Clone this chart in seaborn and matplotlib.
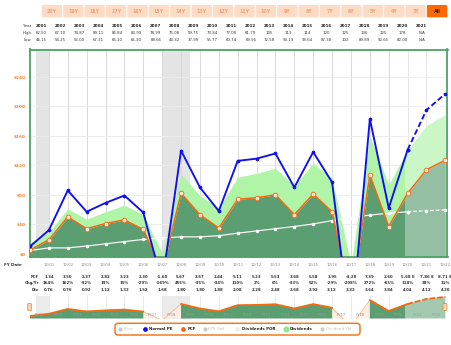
import numpy as np
import pandas as pd
import matplotlib
matplotlib.use("Agg")
import matplotlib.pyplot as plt
import matplotlib.transforms as mtransforms
from matplotlib.patches import FancyBboxPatch
import seaborn as sns

# ---------------- data ----------------
fy_idx = list(range(23))  # 12/00 .. 12/22
fy_dates = ["12/%02d" % y for y in range(1, 23)]
normal_pe = [10, 32, 86, 57, 69, 79, 56, -40, 140, 90, 58, 126, 129, 136, 90, 138, 97, -106, 183, 62, 141, 195, 217]
fcf_line = [5, 19, 50, 34, 41, 46, 33, -23, 82, 53, 35, 74, 76, 80, 53, 81, 57, -62, 107, 37, 82, 114, 127]
div_top = [15, 29, 61, 47, 57, 66, 53, 1, 108, 79, 62, 104, 109, 116, 92, 123, 102, -14, 160, 94, 141, 174, 189]
div_por = [4.5, 8, 8, 10.5, 13.5, 16.5, 19.5, 21.5, 23, 23, 24.5, 28, 31, 34, 37, 40.5, 45, 49, 52.5, 55, 57, 58.5, 59.5]

years = [str(y) for y in range(2001, 2022)]
high = ["62.50", "67.10", "74.87", "89.11", "85.84", "83.99", "78.99", "75.08", "59.75", "73.84", "77.00",
        "81.79", "105", "113", "114", "120", "125", "136", "125", "178", "N/A"]
low = ["46.15", "54.25", "53.00", "67.31", "66.10", "65.30", "68.66", "43.32", "37.99", "55.77", "60.74",
       "69.56", "72.58", "93.19", "93.64", "87.30", "102", "89.89", "92.65", "82.00", "N/A"]
fcf_vals = ["1.34", "3.50", "2.37", "2.82", "3.23", "2.30", "-1.60", "5.67", "3.67", "2.44", "5.11", "5.23",
            "5.53", "3.68", "5.58", "3.95", "-4.28", "7.39", "2.60", "5.68 E", "7.86 E", "8.71 E"]
chg_vals = ["164%", "162%", "-32%", "19%", "15%", "-29%", "-169%", "455%", "-35%", "-34%", "110%", "2%",
            "6%", "-33%", "52%", "-29%", "-208%", "272%", "-65%", "118%", "38%", "11%"]
div_vals = ["0.76", "0.76", "0.92", "1.12", "1.32", "1.52", "1.68", "1.80", "1.80", "1.88", "2.08", "2.28",
            "2.48", "2.68", "2.92", "3.12", "3.32", "3.64", "3.84", "4.04", "4.12", "4.20"]
buttons = ["20Y", "19Y", "18Y", "17Y", "16Y", "15Y", "14Y", "13Y", "12Y", "11Y", "10Y", "9Y", "8Y", "7Y",
           "6Y", "5Y", "4Y", "3Y", "All"]
yticks = [0, 40, 80, 120, 160, 200, 240]
recessions = [(0.3, 1.0), (7.0, 8.5)]
est_start = 19.86
nav_labels = ["FY%02d" % y for y in range(1, 23)]

df = pd.DataFrame({"i": fy_idx, "pe": normal_pe, "fcf": fcf_line, "top": div_top, "por": div_por})
act = df[df.i <= 20]
est = df[df.i >= 20]

# ---------------- figure ----------------
sns.set_theme(style="white")
plt.rcParams["font.family"] = ["DejaVu Sans"]
W, H = 452, 345
fig = plt.figure(figsize=(W / 100, H / 100), dpi=100)
fig.patch.set_facecolor("white")


def px_rect(l, t, r, b):
    return [l / W, 1 - b / H, (r - l) / W, (b - t) / H]


XL = (-0.0265, 22.113)
DGREEN = "#5b9e72"
LGREEN = "#b0f4a8"
ORANGE = "#f26a10"
BLUE = "#0f0ff0"

ax = fig.add_axes(px_rect(29.5, 49.5, 447.5, 257))
ax.set_xlim(*XL)
ax.set_ylim(-4.34, 277)
for a, b in recessions:
    ax.axvspan(a, b, color="#e4e4e4", lw=0, zorder=0.5)
ax.set_yticks(yticks)
ax.set_yticklabels(["$%d" % v for v in yticks], color="#f7852f", fontsize=3.1, fontweight="bold")
ax.set_xticks(range(1, 22))
ax.set_xticklabels([])
ax.tick_params(length=0, pad=2.6)
ax.grid(axis="y", color="#ececec", lw=0.7)
ax.grid(axis="x", color="#d9d9d9", lw=0.7)
ax.set_axisbelow(True)

ax.fill_between(df.i, -4.34, df.fcf, color=DGREEN, lw=0, zorder=2)
ax.fill_between(df.i, df.fcf, df.top, color=LGREEN, lw=0, zorder=2)
ax.axvspan(est_start, 22.3, color="white", alpha=0.35, lw=0, zorder=2.5)

sns.lineplot(data=act, x="i", y="por", ax=ax, color="#f6f6f6", lw=0.9, marker="o", ms=1.8,
             mfc="white", mec="white", zorder=3)
sns.lineplot(data=est, x="i", y="por", ax=ax, color="#f6f6f6", lw=0.9, marker="o", ms=1.8,
             mfc="white", mec="white", zorder=3, linestyle=(0, (3, 1.5)))
sns.lineplot(data=df, x="i", y="fcf", ax=ax, color=ORANGE, lw=1.1, marker="o", ms=3.4,
             mfc="#fde3d3", mec=ORANGE, mew=0.6, zorder=4)
sns.lineplot(data=act, x="i", y="pe", ax=ax, color=BLUE, lw=1.35, marker="o", ms=1.9,
             mfc=BLUE, mec=BLUE, zorder=5)
sns.lineplot(data=est, x="i", y="pe", ax=ax, color=BLUE, lw=1.35, marker="o", ms=1.9,
             mfc=BLUE, mec=BLUE, zorder=5, linestyle=(0, (3, 1.5)))
ax.set_xlabel("")
ax.set_ylabel("")
for s in ax.spines.values():
    s.set_color("#4da466")
    s.set_linewidth(1.3)

# ---------------- navigator ----------------
nav = fig.add_axes(px_rect(29.5, 296, 447.5, 318.5))
nav.set_xlim(*XL)
nav.set_ylim(-11, 133)
for a, b in recessions:
    nav.axvspan(a, b, color="#ebebeb", lw=0, zorder=0.5)
nav.set_xticks(range(1, 22))
nav.set_xticklabels([])
nav.set_yticks([])
nav.tick_params(length=0)
nav.grid(axis="x", color="#e6e6e6", lw=0.6)
nav.set_axisbelow(True)
for s in nav.spines.values():
    s.set_visible(False)
pos = [v > 0 for v in fcf_line]
dip = [i in (6, 7, 8, 16, 17, 18) for i in fy_idx]
nav.fill_between(df.i, -11, df.fcf, where=dip, color="#fdeee3", lw=0, zorder=1)
nav.fill_between(df.i, -11, df.fcf, where=pos, color=DGREEN, lw=0, zorder=2)
nav.plot(df.i, df.fcf, color="#f5b88c", lw=0.6, zorder=3)
thick = df.fcf.where(df.fcf > 0)
nav.plot(df.i[df.i <= 20], thick[df.i <= 20], color=ORANGE, lw=1.3, zorder=4)
nav.plot(df.i[df.i >= 20], thick[df.i >= 20], color=ORANGE, lw=1.3, zorder=4, ls=(0, (3, 1.2)))
nav.axvspan(est_start, 22.3, color="white", alpha=0.45, lw=0, zorder=2.5)

# ---------------- overlay (pixel coords) ----------------
ov = fig.add_axes([0, 0, 1, 1], zorder=10)
ov.set_xlim(0, W)
ov.set_ylim(H, 0)
ov.axis("off")
ov.patch.set_alpha(0)

# buttons
for k, lab in enumerate(buttons):
    x0 = 41.7 + 21.4 * k
    is_all = lab == "All"
    ov.add_patch(FancyBboxPatch((x0, 5), 20.4, 12.3, boxstyle="round,pad=0,rounding_size=1",
                                fc="#ff6a00" if is_all else "#fddcc6", ec="none"))
    ov.text(x0 + 10.2, 11.3, lab, ha="center", va="center", fontsize=3.4, fontweight="bold",
            color="#3d1a00" if is_all else "#f3a073")

# year table
for lab, yy in [("Year", 25.7), ("High", 32.7), ("Low", 40.3)]:
    ov.text(31.7, yy, lab, ha="right", va="center", fontsize=2.8, color="#333333")
for k in range(len(years)):
    xc = 41.7 + 19.0 * k
    ov.text(xc, 25.7, years[k], ha="center", va="center", fontsize=2.9, fontweight="bold", color="#222222")
    ov.text(xc, 32.7, high[k], ha="center", va="center", fontsize=2.8, color="#333333")
    ov.text(xc, 40.3, low[k], ha="center", va="center", fontsize=2.8, color="#333333")

# FY date + lower table (x in data coords, y in pixels)
bt = mtransforms.blended_transform_factory(ax.transData, ov.transData)
ov.text(21.5, 264.5, "FY Date", ha="right", va="center", fontsize=2.9, fontweight="bold", color="#333333")
ov.text(39, 276.5, "FCF", ha="right", va="center", fontsize=2.8, fontweight="bold", color="#333333")
ov.text(39, 283, "Chg/Yr", ha="right", va="center", fontsize=2.8, fontweight="bold", color="#333333")
ov.text(39, 290, "Div", ha="right", va="center", fontsize=2.8, fontweight="bold", color="#333333")
for k in range(22):
    xi = k + 1
    ov.text(xi, 264.5, fy_dates[k], transform=bt, ha="center", va="center", fontsize=2.75, color="#888888")
    ov.text(xi, 276.5, fcf_vals[k], transform=bt, ha="center", va="center", fontsize=2.75,
            fontweight="bold", color="#333333")
    ov.text(xi, 283, chg_vals[k], transform=bt, ha="center", va="center", fontsize=2.75,
            fontweight="bold", color="#333333")
    ov.text(xi, 290, div_vals[k], transform=bt, ha="center", va="center", fontsize=2.75,
            fontweight="bold", color="#333333")

# navigator labels and handles
btn = mtransforms.blended_transform_factory(nav.transData, ov.transData)
for k, lab in enumerate(nav_labels):
    ov.text(k + 0.5, 315.3, lab, transform=btn, ha="center", va="center", fontsize=2.7, color="#9a9a9a")
for hx in (27.7, 443.0):
    ov.add_patch(FancyBboxPatch((hx, 303.5), 4, 7, boxstyle="round,pad=0,rounding_size=1",
                                fc="#fbd3b8", ec="#f07a30", lw=0.5))

# legend
ov.add_patch(FancyBboxPatch((115, 323.3), 245, 11.7, boxstyle="round,pad=0,rounding_size=3",
                            fc="white", ec="#f07a20", lw=1.1))
legend_items = [
    (120.5, 124.0, "Price", "#cccccc", 2.0, "#c0c0c0", "normal"),
    (145.0, 148.8, "Normal PE", BLUE, 2.4, "#222222", "bold"),
    (183.5, 187.3, "FCF", ORANGE, 2.4, "#222222", "bold"),
    (205.0, 208.3, "EPS Gwl", "#cccccc", 2.0, "#c0c0c0", "normal"),
    (237.5, 242.0, "Dividends POR", "#eeeeee", 2.4, "#222222", "bold"),
    (286.0, 290.0, "Dividends", "#8fe88a", 3.4, "#222222", "bold"),
    (321.7, 326.5, "Dividend Yld", "#cccccc", 2.0, "#c0c0c0", "normal"),
]
for mx, tx, lab, mc, ms, tc, fw in legend_items:
    ov.plot([mx], [329.2], marker="o", ms=ms, color=mc, mec=mc, lw=0)
    ov.text(tx, 329.2, lab, ha="left", va="center", fontsize=2.85, fontweight=fw, color=tc)

fig.savefig("out.png", dpi=100, facecolor="white")
